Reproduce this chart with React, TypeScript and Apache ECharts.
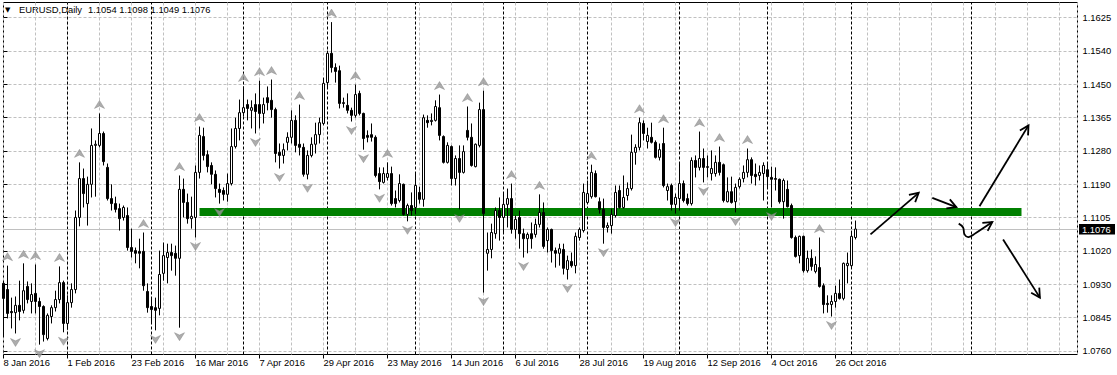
import React, { useEffect, useRef } from 'react';
import * as echarts from 'echarts';

const SYMBOL = 'EURUSD';
const PERIOD = 'Daily';
const MONTHS = ['Jan', 'Feb', 'Mar', 'Apr', 'May', 'Jun', 'Jul', 'Aug', 'Sep', 'Oct', 'Nov', 'Dec'];
const FIRST_BAR = { y: 2016, m: 0, d: 8 };
const VISIBLE_SLOTS = 268.5; // bars + chart shift to the right
const LABEL_LAST = 208; // last labelled bar
const LABEL_STEP = 16;
const GRID_STEP = 8;

const opens = [
  1.0935, 1.0919, 1.0862, 1.0859, 1.0878, 1.0865, 1.0927, 1.0888, 1.0909, 1.0888,
  1.0875, 1.0792, 1.0849, 1.0872, 1.0893, 1.0937, 1.0831, 1.0885, 1.0919, 1.1106,
  1.1207, 1.1142, 1.1192, 1.1293, 1.1293, 1.1324, 1.1236, 1.1155, 1.1142, 1.1129,
  1.1106, 1.1111, 1.1028, 1.1020, 1.1018, 1.1018, 1.0914, 1.0875, 1.0872, 1.0870,
  1.0961, 1.1002, 1.1015, 1.1013, 1.1000, 1.1179, 1.1145, 1.1103, 1.1106, 1.1223,
  1.1316, 1.1269, 1.1241, 1.1218, 1.1179, 1.1176, 1.1166, 1.1194, 1.1290, 1.1337,
  1.1378, 1.1399, 1.1384, 1.1399, 1.1399, 1.1376, 1.1417, 1.1410, 1.1386, 1.1275,
  1.1267, 1.1301, 1.1314, 1.1358, 1.1296, 1.1288, 1.1218, 1.1267, 1.1296, 1.1321,
  1.1350, 1.1456, 1.1532, 1.1495, 1.1487, 1.1404, 1.1397, 1.1384, 1.1371, 1.1428,
  1.1376, 1.1319, 1.1321, 1.1314, 1.1220, 1.1197, 1.1210, 1.1220, 1.1155, 1.1150,
  1.1192, 1.1114, 1.1137, 1.1132, 1.1171, 1.1153, 1.1358, 1.1355, 1.1358, 1.1391,
  1.1316, 1.1249, 1.1290, 1.1207, 1.1259, 1.1223, 1.1332, 1.1314, 1.1238, 1.1293,
  1.1386, 1.1013, 1.1023, 1.1064, 1.1124, 1.1106, 1.1140, 1.1155, 1.1075, 1.1106,
  1.1064, 1.1051, 1.1064, 1.1062, 1.1088, 1.1119, 1.1046, 1.1075, 1.1020, 1.1013,
  1.1023, 1.0971, 1.0992, 1.0981, 1.1054, 1.1072, 1.1145, 1.1160, 1.1220, 1.1147,
  1.1127, 1.1080, 1.1085, 1.1111, 1.1176, 1.1132, 1.1163, 1.1181, 1.1275, 1.1288,
  1.1350, 1.1303, 1.1314, 1.1301, 1.1262, 1.1298, 1.1176, 1.1189, 1.1140, 1.1155,
  1.1194, 1.1155, 1.1142, 1.1254, 1.1236, 1.1259, 1.1236, 1.1220, 1.1220, 1.1249,
  1.1243, 1.1147, 1.1173, 1.1147, 1.1186, 1.1207, 1.1223, 1.1256, 1.1218, 1.1215,
  1.1220, 1.1230, 1.1210, 1.1207, 1.1205, 1.1147, 1.1179, 1.1137, 1.1054, 1.1007,
  1.1057, 1.0968, 1.1000, 1.0966, 1.0976, 1.0929, 1.0883, 1.0880, 1.0888, 1.0909,
  1.0896, 1.0981, 1.0981, 1.1054,
];

const highs = [
  1.0940, 1.0981, 1.0898, 1.0901, 1.0942, 1.0987, 1.0940, 1.0935, 1.0984, 1.0898,
  1.0878, 1.0857, 1.0878, 1.0916, 1.0979, 1.0942, 1.0904, 1.0935, 1.1124, 1.1249,
  1.1233, 1.1212, 1.1337, 1.1306, 1.1376, 1.1329, 1.1246, 1.1192, 1.1160, 1.1142,
  1.1137, 1.1132, 1.1077, 1.1028, 1.1051, 1.1067, 1.0935, 1.0898, 1.0898, 1.1020,
  1.1041, 1.1038, 1.1038, 1.1033, 1.1215, 1.1207, 1.1168, 1.1160, 1.1241, 1.1342,
  1.1339, 1.1280, 1.1249, 1.1228, 1.1194, 1.1184, 1.1220, 1.1337, 1.1365, 1.1412,
  1.1446, 1.1412, 1.1410, 1.1428, 1.1461, 1.1417, 1.1446, 1.1464, 1.1391, 1.1298,
  1.1298, 1.1327, 1.1384, 1.1371, 1.1399, 1.1298, 1.1280, 1.1314, 1.1352, 1.1365,
  1.1469, 1.1539, 1.1613, 1.1506, 1.1500, 1.1417, 1.1428, 1.1391, 1.1451, 1.1435,
  1.1378, 1.1332, 1.1350, 1.1319, 1.1236, 1.1236, 1.1249, 1.1238, 1.1176, 1.1218,
  1.1194, 1.1142, 1.1171, 1.1220, 1.1186, 1.1373, 1.1371, 1.1376, 1.1410, 1.1425,
  1.1319, 1.1301, 1.1293, 1.1267, 1.1293, 1.1293, 1.1394, 1.1350, 1.1298, 1.1404,
  1.1435, 1.1067, 1.1090, 1.1132, 1.1158, 1.1168, 1.1181, 1.1194, 1.1111, 1.1124,
  1.1077, 1.1067, 1.1093, 1.1103, 1.1166, 1.1145, 1.1080, 1.1077, 1.1028, 1.1038,
  1.1038, 1.1007, 1.1015, 1.1067, 1.1080, 1.1194, 1.1202, 1.1243, 1.1228, 1.1158,
  1.1155, 1.1093, 1.1129, 1.1189, 1.1189, 1.1215, 1.1197, 1.1321, 1.1296, 1.1365,
  1.1358, 1.1339, 1.1352, 1.1306, 1.1298, 1.1339, 1.1194, 1.1194, 1.1168, 1.1249,
  1.1202, 1.1168, 1.1262, 1.1267, 1.1329, 1.1285, 1.1267, 1.1280, 1.1267, 1.1290,
  1.1246, 1.1210, 1.1212, 1.1194, 1.1210, 1.1241, 1.1285, 1.1262, 1.1246, 1.1241,
  1.1249, 1.1246, 1.1238, 1.1236, 1.1207, 1.1207, 1.1202, 1.1142, 1.1059, 1.1059,
  1.1059, 1.1020, 1.1023, 1.1005, 1.1054, 1.0935, 1.0904, 1.0904, 1.0929, 1.0945,
  1.0989, 1.1015, 1.1072, 1.1098,
];

const lows = [
  1.0797, 1.0844, 1.0818, 1.0805, 1.0839, 1.0857, 1.0883, 1.0857, 1.0857, 1.0776,
  1.0784, 1.0787, 1.0831, 1.0862, 1.0883, 1.0808, 1.0815, 1.0872, 1.0909, 1.1083,
  1.1132, 1.1085, 1.1158, 1.1160, 1.1288, 1.1241, 1.1150, 1.1124, 1.1119, 1.1072,
  1.1098, 1.1020, 1.1002, 1.0987, 1.0974, 1.0916, 1.0859, 1.0831, 1.0813, 1.0852,
  1.0942, 1.0935, 1.0968, 1.0955, 1.0820, 1.1106, 1.1090, 1.1077, 1.1054, 1.1207,
  1.1254, 1.1223, 1.1192, 1.1158, 1.1142, 1.1150, 1.1147, 1.1189, 1.1285, 1.1306,
  1.1368, 1.1358, 1.1337, 1.1324, 1.1337, 1.1350, 1.1384, 1.1365, 1.1249, 1.1233,
  1.1246, 1.1280, 1.1298, 1.1275, 1.1267, 1.1212, 1.1205, 1.1262, 1.1272, 1.1298,
  1.1345, 1.1441, 1.1482, 1.1456, 1.1389, 1.1391, 1.1376, 1.1355, 1.1365, 1.1371,
  1.1282, 1.1301, 1.1303, 1.1210, 1.1179, 1.1194, 1.1202, 1.1137, 1.1132, 1.1145,
  1.1111, 1.1096, 1.1111, 1.1114, 1.1142, 1.1134, 1.1339, 1.1345, 1.1355, 1.1306,
  1.1246, 1.1246, 1.1189, 1.1189, 1.1127, 1.1220, 1.1306, 1.1238, 1.1236, 1.1288,
  1.0911, 1.0968, 1.1000, 1.1051, 1.1046, 1.1064, 1.1080, 1.1064, 1.1051, 1.1025,
  1.1002, 1.1013, 1.1025, 1.1054, 1.1080, 1.1025, 1.1015, 1.0989, 1.0976, 1.0981,
  1.0958, 1.0945, 1.0976, 1.0961, 1.1046, 1.1067, 1.1142, 1.1155, 1.1158, 1.1116,
  1.1038, 1.1067, 1.1064, 1.1106, 1.1129, 1.1129, 1.1150, 1.1176, 1.1243, 1.1280,
  1.1306, 1.1285, 1.1298, 1.1259, 1.1254, 1.1184, 1.1150, 1.1124, 1.1116, 1.1124,
  1.1145, 1.1137, 1.1137, 1.1210, 1.1228, 1.1197, 1.1210, 1.1202, 1.1212, 1.1215,
  1.1145, 1.1145, 1.1142, 1.1119, 1.1181, 1.1197, 1.1210, 1.1194, 1.1189, 1.1202,
  1.1150, 1.1184, 1.1132, 1.1176, 1.1142, 1.1103, 1.1132, 1.1051, 1.1002, 1.0987,
  1.0963, 1.0963, 1.0968, 1.0961, 1.0924, 1.0857, 1.0859, 1.0849, 1.0872, 1.0893,
  1.0891, 1.0935, 1.0976, 1.1049,
];

const closes = [
  1.0896, 1.0857, 1.0859, 1.0878, 1.0862, 1.0916, 1.0893, 1.0906, 1.0888, 1.0875,
  1.0802, 1.0852, 1.0872, 1.0893, 1.0937, 1.0831, 1.0885, 1.0919, 1.1106, 1.1207,
  1.1168, 1.1192, 1.1293, 1.1296, 1.1324, 1.1251, 1.1155, 1.1142, 1.1127, 1.1103,
  1.1132, 1.1028, 1.1018, 1.1013, 1.1013, 1.0929, 1.0872, 1.0867, 1.0865, 1.0958,
  1.1007, 1.1015, 1.1007, 1.1000, 1.1179, 1.1145, 1.1103, 1.1109, 1.1223, 1.1319,
  1.1267, 1.1238, 1.1218, 1.1181, 1.1171, 1.1166, 1.1194, 1.1290, 1.1337, 1.1378,
  1.1391, 1.1389, 1.1391, 1.1381, 1.1376, 1.1399, 1.1404, 1.1386, 1.1272, 1.1267,
  1.1282, 1.1314, 1.1358, 1.1293, 1.1288, 1.1218, 1.1267, 1.1296, 1.1321, 1.1352,
  1.1454, 1.1532, 1.1495, 1.1485, 1.1402, 1.1402, 1.1384, 1.1371, 1.1425, 1.1376,
  1.1311, 1.1314, 1.1314, 1.1215, 1.1199, 1.1220, 1.1220, 1.1142, 1.1142, 1.1194,
  1.1114, 1.1137, 1.1124, 1.1189, 1.1153, 1.1365, 1.1352, 1.1358, 1.1394, 1.1319,
  1.1249, 1.1293, 1.1207, 1.1259, 1.1223, 1.1277, 1.1314, 1.1241, 1.1296, 1.1386,
  1.1116, 1.1023, 1.1067, 1.1124, 1.1106, 1.1140, 1.1155, 1.1075, 1.1101, 1.1064,
  1.1051, 1.1062, 1.1051, 1.1088, 1.1119, 1.1031, 1.1075, 1.1020, 1.1013, 1.1025,
  1.0974, 1.0994, 1.0981, 1.1057, 1.1075, 1.1171, 1.1168, 1.1223, 1.1160, 1.1127,
  1.1080, 1.1085, 1.1114, 1.1171, 1.1132, 1.1158, 1.1181, 1.1275, 1.1288, 1.1352,
  1.1324, 1.1319, 1.1301, 1.1262, 1.1282, 1.1189, 1.1186, 1.1140, 1.1158, 1.1194,
  1.1150, 1.1142, 1.1254, 1.1236, 1.1259, 1.1236, 1.1238, 1.1233, 1.1249, 1.1223,
  1.1150, 1.1173, 1.1145, 1.1184, 1.1205, 1.1223, 1.1256, 1.1215, 1.1212, 1.1223,
  1.1241, 1.1212, 1.1205, 1.1205, 1.1147, 1.1202, 1.1134, 1.1054, 1.1005, 1.1057,
  1.0968, 1.1000, 1.0979, 1.0984, 1.0927, 1.0880, 1.0880, 1.0888, 1.0909, 1.0896,
  1.0987, 1.0987, 1.1057, 1.1076,
];

// Bill Williams fractals (bar indices)
const upFractals = [1, 5, 8, 14, 19, 24, 35, 44, 49, 60, 64, 67, 74, 82, 88, 96, 109, 116, 120, 127, 134, 147, 159, 165, 174, 179, 186, 204];
const downFractals = [3, 9, 15, 38, 44, 48, 54, 63, 69, 76, 87, 90, 94, 101, 114, 120, 130, 141, 150, 168, 175, 183, 192, 207];

// price scale labels (equally spaced grid rows, bottom to top)
const priceTickLabels = ['1.0760', '1.0845', '1.0930', '1.1020', '1.1105', '1.1190', '1.1280', '1.1365', '1.1450', '1.1540', '1.1625'];
const PRICE_MIN = 1.07504;
const PRICE_MAX = 1.16639;

// monthly period separators (bar indices)
const separators = [16, 37, 60, 81, 103, 125, 146, 169, 191, 212, 242];

// drawn objects (bar index, price)
const supportLevel = { price: 1.1120, from: 49, to: 254.5 };
const arrowPaths = [
  [[216.75, 1.1062], [228.8, 1.1170]],
  [[232.2, 1.1157], [238.2, 1.1133]],
  [[244, 1.1135], [256.25, 1.1345]],
  [[238.8, 1.1090], [239.9, 1.1080], [240.25, 1.1062], [241.25, 1.1055], [243, 1.1065], [247.2, 1.1094]],
  [[249.9, 1.1049], [259.1, 1.0898]],
];

const FONT = '"Liberation Sans", Arial, Helvetica, sans-serif';
const FS = 9.4;

function tradingDays(count: number): Date[] {
  const out: Date[] = [];
  const d = new Date(Date.UTC(FIRST_BAR.y, FIRST_BAR.m, FIRST_BAR.d));
  while (out.length < count) {
    const wd = d.getUTCDay();
    if (wd !== 0 && wd !== 6) out.push(new Date(d.getTime()));
    d.setUTCDate(d.getUTCDate() + 1);
  }
  return out;
}
const days = tradingDays(Math.ceil(VISIBLE_SLOTS) + 1);
const fmtDay = (d: Date) => `${d.getUTCDate()} ${MONTHS[d.getUTCMonth()]} ${d.getUTCFullYear()}`;

const UP_SYMBOL = 'path://M5,0L10,8L5,5.6L0,8Z';
const DOWN_SYMBOL = 'path://M0,0L5,2.4L10,0L5,8Z';

function buildOption() {
  const last = opens.length - 1;
  const candleData = opens.map((o, i) => [i, o, closes[i], lows[i], highs[i]]);
  const quote = [opens[last], highs[last], lows[last], closes[last]].map((v) => v.toFixed(4)).join(' ');
  const gridLine = { color: '#c0c0c0', type: [3, 2] as any, width: 1 };

  return {
    animation: false,
    backgroundColor: '#ffffff',
    textStyle: { fontFamily: FONT },
    grid: [
      { left: 3.5, right: 39.5, top: 2.5, bottom: 20.5, show: true, borderColor: '#000', borderWidth: 1, backgroundColor: 'transparent' },
      { left: 3.5, right: 39.5, top: 17.5, height: 333.33 },
      { left: 3.5, width: LABEL_LAST * 4, top: 2.5, bottom: 20.5 },
    ],
    xAxis: [
      {
        type: 'value', gridIndex: 0, min: 0, max: VISIBLE_SLOTS, interval: GRID_STEP,
        axisLine: { show: false }, axisTick: { show: false }, axisLabel: { show: false },
        splitLine: { show: true, lineStyle: gridLine },
      },
      { type: 'value', gridIndex: 1, min: 0, max: 1, show: false },
      {
        type: 'value', gridIndex: 2, min: 0, max: LABEL_LAST, interval: LABEL_STEP, position: 'bottom',
        axisLine: { show: false },
        axisTick: { show: true, length: 4, lineStyle: { color: '#000', width: 1 } },
        splitLine: { show: false },
        axisLabel: {
          show: true, align: 'left', margin: 3, color: '#000', fontSize: FS, fontFamily: FONT,
          showMinLabel: true, showMaxLabel: true,
          formatter: (v: number) => { const d = days[Math.round(v)]; return d ? fmtDay(d) : ''; },
        },
      },
    ],
    yAxis: [
      { type: 'value', gridIndex: 0, min: PRICE_MIN, max: PRICE_MAX, show: false },
      {
        type: 'value', gridIndex: 1, min: 0, max: priceTickLabels.length - 1, interval: 1, position: 'right',
        axisLine: { show: false },
        axisTick: { show: true, length: 4, lineStyle: { color: '#000', width: 1 } },
        splitLine: { show: true, lineStyle: gridLine },
        axisLabel: {
          show: true, margin: 5, color: '#000', fontSize: FS, fontFamily: FONT,
          showMinLabel: true, showMaxLabel: true,
          formatter: (v: number) => priceTickLabels[Math.round(v)] ?? '',
        },
      },
      { type: 'value', gridIndex: 2, min: 0, max: 1, show: false },
    ],
    graphic: [
      { type: 'text', left: 5, top: 6, silent: true, style: { text: '\u25BC', fill: '#000', font: `7px "DejaVu Sans", sans-serif` } },
      { type: 'text', left: 19, top: 5, silent: true, style: { text: `${SYMBOL},${PERIOD}`, fill: '#000', font: `${FS}px ${FONT}` } },
      { type: 'text', left: 88, top: 5, silent: true, style: { text: quote, fill: '#000', font: `${FS}px ${FONT}` } },
    ],
    series: [
      {
        type: 'custom', name: 'support', xAxisIndex: 0, yAxisIndex: 0, z: 1, silent: true,
        data: [[supportLevel.from, supportLevel.price, supportLevel.to]],
        encode: { x: [0, 2], y: 1 },
        renderItem: (_p: any, api: any) => {
          const a = api.coord([api.value(0), api.value(1)]);
          const b = api.coord([api.value(2), api.value(1)]);
          return { type: 'rect', shape: { x: a[0], y: a[1] - 4, width: b[0] - a[0], height: 8 }, style: { fill: '#008000' } };
        },
      },
      {
        type: 'custom', name: 'bid', xAxisIndex: 0, yAxisIndex: 0, z: 1, silent: true, clip: false,
        data: [[last, closes[last]]],
        encode: { x: 0, y: 1 },
        renderItem: (params: any, api: any) => {
          const cs = params.coordSys;
          const p = api.coord([api.value(0), api.value(1)]);
          const y = Math.round(p[1]) + 0.5;
          const right = cs.x + cs.width;
          return {
            type: 'group',
            children: [
              { type: 'line', shape: { x1: cs.x, y1: y, x2: right, y2: y }, style: { stroke: '#c0c0c0', lineWidth: 1 } },
              { type: 'rect', shape: { x: right + 1.5, y: y - 5.5, width: 36, height: 10.5 }, style: { fill: '#000' } },
              {
                type: 'text', x: right + 4.5, y: y,
                style: { text: api.value(1).toFixed(4), fill: '#fff', font: `${FS}px ${FONT}`, align: 'left', verticalAlign: 'middle' },
              },
            ],
          };
        },
      },
      {
        type: 'candlestick', name: SYMBOL, xAxisIndex: 0, yAxisIndex: 0, z: 3, silent: true,
        data: candleData,
        encode: { x: 0, y: [1, 2, 3, 4] },
        barWidth: 2,
        itemStyle: { color: '#ffffff', color0: '#000000', borderColor: '#000000', borderColor0: '#000000', borderWidth: 1 },
        markLine: {
          z: 1, silent: true, symbol: ['none', 'none'], animation: false,
          label: { show: false },
          data: separators.map((s) => ({ xAxis: s, lineStyle: { color: '#000', type: [3, 2], width: 1 }, label: { show: false } })),
        },
      },
      {
        type: 'scatter', name: 'Fractals up', xAxisIndex: 0, yAxisIndex: 0, z: 4, silent: true,
        symbol: UP_SYMBOL, symbolSize: [10, 8], symbolOffset: [0, -9],
        itemStyle: { color: '#989898', borderColor: '#7a7a7a', borderWidth: 0.5 },
        data: upFractals.map((i) => [i, highs[i]]),
      },
      {
        type: 'scatter', name: 'Fractals down', xAxisIndex: 0, yAxisIndex: 0, z: 4, silent: true,
        symbol: DOWN_SYMBOL, symbolSize: [10, 8], symbolOffset: [0, 9],
        itemStyle: { color: '#989898', borderColor: '#7a7a7a', borderWidth: 0.5 },
        data: downFractals.map((i) => [i, lows[i]]),
      },
      {
        type: 'custom', name: 'arrows', xAxisIndex: 0, yAxisIndex: 0, z: 5, silent: true,
        data: arrowPaths.map((p, k) => [p[0][0], p[0][1], k]),
        encode: { x: 0, y: 1 },
        renderItem: (params: any, api: any) => {
          const pts = arrowPaths[params.dataIndex].map((p) => api.coord(p));
          const n = pts.length;
          const end = pts[n - 1];
          const prev = pts[n - 2];
          const ang = Math.atan2(end[1] - prev[1], end[0] - prev[0]);
          const L = 10, t = 0.5;
          const h1 = [end[0] - L * Math.cos(ang - t), end[1] - L * Math.sin(ang - t)];
          const h2 = [end[0] - L * Math.cos(ang + t), end[1] - L * Math.sin(ang + t)];
          return {
            type: 'group',
            children: [
              { type: 'polyline', shape: { points: pts, smooth: n > 2 ? 0.4 : 0 }, style: { stroke: '#000', lineWidth: 1.8, fill: null } },
              { type: 'polyline', shape: { points: [h1, end, h2] }, style: { stroke: '#000', lineWidth: 1.8, fill: null } },
            ],
          };
        },
      },
    ],
  };
}

export default function App() {
  const ref = useRef<HTMLDivElement>(null);
  useEffect(() => {
    document.body.style.margin = '0';
    const chart = echarts.init(ref.current as HTMLDivElement, undefined, { renderer: 'svg' });
    chart.setOption(buildOption() as any);
    return () => chart.dispose();
  }, []);
  return <div ref={ref} style={{ position: 'absolute', left: 0, top: 0, width: 1117, height: 375, background: '#fff' }} />;
}
